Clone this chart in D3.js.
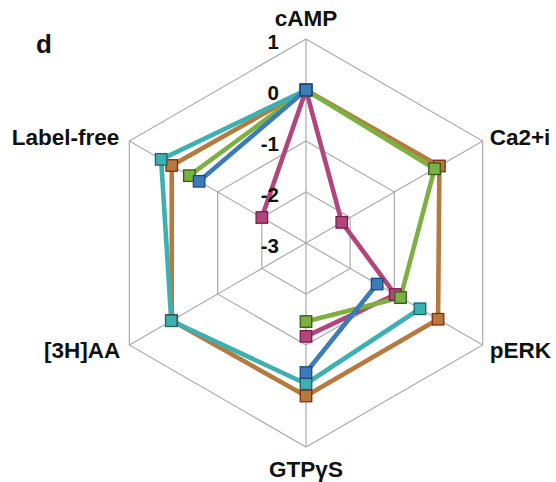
<!DOCTYPE html>
<html>
<head>
<meta charset="utf-8">
<script src="https://cdn.jsdelivr.net/npm/d3@7"></script>
<style>
  html, body { margin: 0; padding: 0; background: #fff; }
  svg { display: block; }
  text { font-family: "Liberation Sans", Arial, Helvetica, sans-serif; font-weight: bold; fill: #111; }
</style>
</head>
<body>
<svg id="chart" width="556" height="482"></svg>
<script>
// Assay axes, clockwise from the top
const axes = ["cAMP", "Ca2+i", "pERK", "GTPγS", "[3H]AA", "Label-free"];
// Radial tick values (log-scale bias units)
const ticks = [1, 0, -1, -2, -3];
// Series values per axis; null = not measured
const seriesOrange = [0, 0.02, -0.01, 0.0, 0.04, 0.04];
const seriesPink   = [0, -2.19, -0.98, -1.17, null, -2.0];
const seriesGreen  = [0, -0.09, -0.86, -1.46, null, -0.36];
const seriesTeal   = [0, null, -0.42, -0.24, 0.05, 0.28];
const seriesBlue   = [0, null, -1.39, -0.46, null, -0.58];

const series = [
  { values: seriesOrange, fill: "#b47a3e", stroke: "#8e2414", line: "#b47a3e" },
  { values: seriesPink,   fill: "#b1457c", stroke: "#7a1c4a", line: "#b1457c" },
  { values: seriesGreen,  fill: "#7db041", stroke: "#2f5f16", line: "#7db041" },
  { values: seriesTeal,   fill: "#3db0b1", stroke: "#1c6466", line: "#3db0b1" },
  { values: seriesBlue,   fill: "#3b7bb8", stroke: "#1c4a7c", line: "#3b7bb8" }
];

const svg = d3.select("#chart");
const cx = 306, cy = 243, R = 204;

const r = d3.scaleLinear().domain([-3, 1]).range([0, R]);
const angle = d3.scaleLinear().domain([0, axes.length]).range([0, 2 * Math.PI]);

function pt(i, v) {
  const a = angle(i);
  const rr = r(v);
  return [cx + rr * Math.sin(a), cy - rr * Math.cos(a)];
}

const g = svg.append("g");

// Hexagonal grid rings
const gridColor = "#ababab";
ticks.filter(t => t > -3).forEach(t => {
  const ring = axes.map((_, i) => pt(i, t));
  g.append("path")
    .attr("d", d3.line()(ring) + "Z")
    .attr("fill", "none")
    .attr("stroke", gridColor)
    .attr("stroke-width", 1.2);
});

// Spokes
axes.forEach((_, i) => {
  const [x1, y1] = pt(i, -3);
  const [x2, y2] = pt(i, 1);
  g.append("line")
    .attr("x1", x1).attr("y1", y1).attr("x2", x2).attr("y2", y2)
    .attr("stroke", gridColor).attr("stroke-width", 1.2);
});

// Series lines; missing values break the line
const lineGen = d3.line().defined(d => d.v !== null).x(d => d.p[0]).y(d => d.p[1]);

series.forEach(s => {
  const pts = s.values.map((v, i) => ({ v, p: v === null ? null : pt(i, v) }));
  const closed = pts.concat([pts[0]]);
  g.append("path")
    .attr("d", lineGen(closed))
    .attr("fill", "none")
    .attr("stroke", s.line)
    .attr("stroke-width", 4.6)
    .attr("stroke-linejoin", "round");
});

// Square markers
const ms = 11.5;
series.forEach(s => {
  s.values.forEach((v, i) => {
    if (v === null) return;
    const [x, y] = pt(i, v);
    g.append("rect")
      .attr("x", x - ms / 2).attr("y", y - ms / 2)
      .attr("width", ms).attr("height", ms)
      .attr("fill", s.fill)
      .attr("stroke", s.stroke)
      .attr("stroke-width", 1.3);
  });
});

// Radial tick labels along the top spoke
ticks.forEach(t => {
  const [, y] = pt(0, t);
  svg.append("text")
    .attr("x", cx - 27)
    .attr("y", y + 10)
    .attr("text-anchor", "end")
    .attr("font-size", 20.5)
    .text(t);
});

// Axis labels
const labelPos = [
  { dx: 0,   dy: -13, anchor: "middle" },
  { dx: 7,   dy: 4,   anchor: "start" },
  { dx: 7,   dy: 13,  anchor: "start" },
  { dx: 0,   dy: 30,  anchor: "middle" },
  { dx: -9,  dy: 13,  anchor: "end" },
  { dx: -10, dy: 4,   anchor: "end" }
];
axes.forEach((name, i) => {
  const [x, y] = pt(i, 1);
  svg.append("text")
    .attr("x", x + labelPos[i].dx)
    .attr("y", y + labelPos[i].dy)
    .attr("text-anchor", labelPos[i].anchor)
    .attr("font-size", 22.5)
    .text(name);
});

// Panel letter
svg.append("text")
  .attr("x", 36).attr("y", 53)
  .attr("font-size", 26)
  .text("d");
</script>
</body>
</html>
